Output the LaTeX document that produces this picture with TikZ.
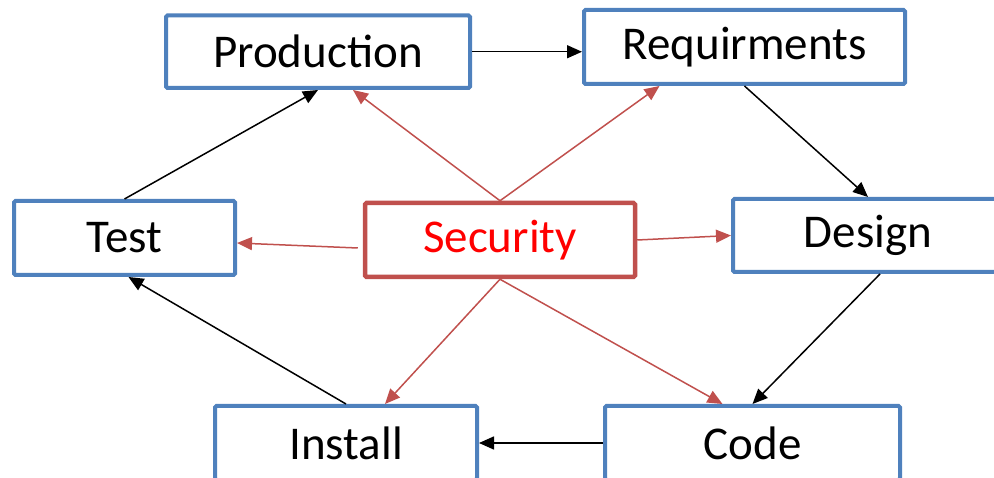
\documentclass[tikz,border=0pt]{standalone}
\usepackage{fontspec}
\setmainfont{Carlito}
\usetikzlibrary{arrows.meta}
\definecolor{boxblue}{HTML}{4F81BD}
\definecolor{secred}{HTML}{C0504D}
\begin{document}
\begin{tikzpicture}[x=1pt,y=-1pt,
  box/.style={draw=boxblue,line width=4pt,rounded corners=1.5pt,fill=white,inner sep=0pt,
    font=\fontsize{47}{56}\selectfont,text=black},
  blk/.style={draw=black,line width=1.5pt,-{Triangle[length=15pt,width=13pt]}},
  redarr/.style={draw=secred,line width=1.5pt,-{Triangle[length=15pt,width=13pt]}}]
\useasboundingbox (0,0) rectangle (994,478);
\clip (0,0) rectangle (994,478);
% nodes
\node[box,minimum width=304pt,minimum height=72.5pt] (prod) at (318,51.75) {Production};
\node[box,minimum width=321pt,minimum height=74pt] (req) at (744.5,47) {Requirments};
\node[box,minimum width=221pt,minimum height=74pt] (test) at (124.5,238) {Test};
\node[box,draw=secred,line width=4.5pt,minimum width=270pt,minimum height=74pt,text={rgb,255:red,255;green,0;blue,0}] (sec) at (500,240) {Security};
\node[box,minimum width=270pt,minimum height=73pt] (des) at (868,235.5) {Design};
\node[box,minimum width=262pt,minimum height=74pt] (inst) at (346,443) {Install};
\node[box,minimum width=295pt,minimum height=74pt] (code) at (752.5,443) {Code};
% black cycle arrows
\draw[blk] (prod.east) -- (prod.east -| req.west);
\draw[blk] (req.south) -- (des.north);
\draw[blk] ([xshift=12pt]des.south) -- (code.north);
\draw[blk] (code.west) -- (inst.east);
\draw[blk] (inst.north) -- ([xshift=4pt]test.south);
\draw[blk] (test.north) -- (prod.south);
% red arrows from Security
\draw[redarr] (sec.north) -- ([xshift=35pt]prod.south);
\draw[redarr] (sec.north) -- ([xshift=-85pt]req.south);
\draw[redarr] ([xshift=-5pt,yshift=-8pt]sec.west) -- ([yshift=-5pt]test.east);
\draw[redarr] (sec.east) -- (des.west);
\draw[redarr] (sec.south) -- ([xshift=39pt]inst.north);
\draw[redarr] (sec.south) -- ([xshift=-30pt]code.north);
\end{tikzpicture}
\end{document}
